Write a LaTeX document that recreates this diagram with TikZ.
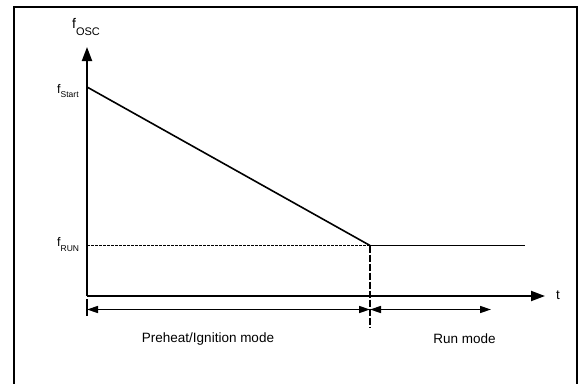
\documentclass[tikz,border=0pt]{standalone}
\usepackage{fontspec}
\setmainfont{Liberation Sans}
\usetikzlibrary{arrows.meta}
\tikzset{
  frame/.style={line width=2pt},
  axis/.style={line width=2pt},
  curve/.style={line width=1.6pt},
  guide/.style={line width=1.3pt, dash pattern=on 3pt off 1pt},
  marker/.style={line width=1.5pt, dash pattern=on 7pt off 2pt},
  dim/.style={line width=1.5pt, {Triangle[length=11pt,width=7pt]}-{Triangle[length=11pt,width=7pt]}},
  lbl/.style={inner sep=0pt, font=\fontsize{13.5}{14}\selectfont},
  axarrow/.style={-{Triangle[length=14pt,width=10pt]}},
}
\newcommand{\fsub}[4]{{\fontsize{#1}{#1}\selectfont f}\raisebox{-#3pt}{\fontsize{#2}{#2}\selectfont #4}}
\begin{document}
\begin{tikzpicture}[x=1pt,y=-1pt]
\useasboundingbox (0,0) rectangle (578,383);
% frame
\draw[frame] (14,390) -- (14,7) -- (577,7) -- (577,390);
% coordinates
\coordinate (O) at (87,296);
\coordinate (ytip) at (87,47);
\coordinate (xtip) at (545,296);
\coordinate (S) at (87,87);
\coordinate (K) at (370,245.5);
\coordinate (R0) at (87,245.5);
\coordinate (Rend) at (525,245.5);
\coordinate (Kb) at (370,328);
\coordinate (T1) at (87,299);
\coordinate (T2) at (87,316);
\coordinate (D1) at (87,309.5);
\coordinate (D2) at (370,309.5);
\coordinate (D3) at (491,309.5);
% axes
\draw[axis,axarrow] (O) -- (ytip);
\draw[axis,axarrow] (O) -- (xtip);
% curves
\draw[curve] (S) -- (K);
\draw[guide] (R0) -- (K);
\draw[curve] (K) -- (Rend);
\draw[marker] (K) -- (Kb);
\draw[curve] (T1) -- (T2);
\draw[dim] (D1) -- (D2);
\draw[dim] (D2) -- (D3);
% labels
\node[inner sep=0pt, anchor=base west] (fosc) at (72,28.5) {\fsub{14}{11}{7}{OSC}};
\node[inner sep=0pt, anchor=base west] (fstart) at (57,93) {\fsub{12.5}{8.5}{4}{Start}};
\node[inner sep=0pt, anchor=base west] (frun) at (57,246) {\fsub{12.5}{8.5}{5}{RUN}};
\node[lbl, anchor=base] (t) at (558,299) {t};
\node[lbl, anchor=base] (pre) at (208,342) {Preheat/Ignition mode};
\node[lbl, anchor=base] (run) at (464.5,343) {Run mode};
\end{tikzpicture}
\end{document}
